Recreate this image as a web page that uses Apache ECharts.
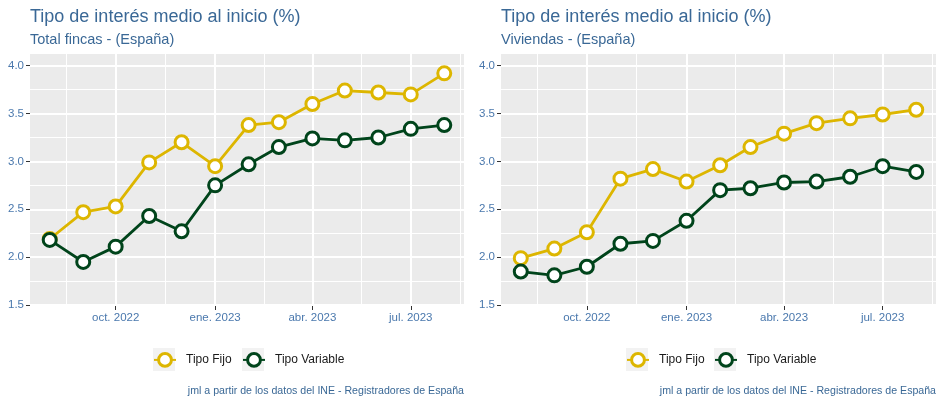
<!DOCTYPE html>
<html>
<head>
<meta charset="utf-8">
<script src="https://cdn.jsdelivr.net/npm/echarts@6/dist/echarts.min.js"></script>
<style>html,body{margin:0;padding:0;background:#fff}#c{width:944px;height:404px}</style>
</head>
<body>
<div id="c"></div>
<script>
// ---- data ----
const months = ['2022-08-01','2022-09-01','2022-10-01','2022-11-01','2022-12-01','2023-01-01','2023-02-01','2023-03-01','2023-04-01','2023-05-01','2023-06-01','2023-07-01','2023-08-01'];
const totalFijo     = [2.19,2.47,2.53,2.99,3.20,2.95,3.38,3.41,3.60,3.74,3.72,3.70,3.92];
const totalVariable = [2.18,1.95,2.11,2.43,2.27,2.75,2.97,3.15,3.24,3.22,3.25,3.34,3.38];
const vivFijo       = [1.99,2.09,2.26,2.82,2.92,2.79,2.96,3.15,3.29,3.40,3.45,3.49,3.54];
const vivVariable   = [1.85,1.81,1.90,2.14,2.17,2.38,2.70,2.72,2.78,2.79,2.84,2.95,2.89];
const xTickDates  = ['2022-10-01','2023-01-01','2023-04-01','2023-07-01'];
const xMinorDates = ['2022-08-16','2022-11-16','2023-02-15','2023-05-16','2023-08-16'];
const monthNames  = ['ene.','feb.','mar.','abr.','may.','jun.','jul.','ago.','sep.','oct.','nov.','dic.'];
const yTicks = [1.5,2.0,2.5,3.0,3.5,4.0];
const yMinor = [1.75,2.25,2.75,3.25,3.75];
const seriesNames = ['Tipo Fijo','Tipo Variable'];
const titleText = 'Tipo de interés medio al inicio (%)';
const subtitles = ['Total fincas - (España)','Viviendas - (España)'];
const captionText = 'jml a partir de los datos del INE - Registradores de España';

// ---- helpers ----
const ts = s => new Date(s + 'T00:00:00').getTime();
const DAY = 86400000;
const xMin = ts(months[0]) - 18.25 * DAY;
const xMax = ts(months[months.length-1]) + 18.25 * DAY;
const FONT = "'Liberation Sans', Arial, sans-serif";
const COL_FIJO = '#DDB600';
const COL_VAR = '#00441B';
const LABEL_COL = '#4A78AD';
const TITLE_COL = '#3A6896';

const grids = [
  {left: 30, top: 54, width: 434, height: 252},
  {left: 501, top: 54, width: 435, height: 252}
];

const xAxes = [], yAxes = [], series = [];
grids.forEach((g, gi) => {
  g.show = true; g.backgroundColor = '#EBEBEB'; g.borderWidth = 0;
  xAxes.push({
    type: 'value', gridIndex: gi, min: xMin, max: xMax,
    axisLine: {show: false},
    axisTick: {show: true, length: 4, lineStyle: {color: '#333333', width: 1}, customValues: xTickDates.map(ts)},
    axisLabel: {customValues: xTickDates.map(ts), margin: 6, color: LABEL_COL, fontFamily: FONT, fontSize: 11.5,
      formatter: v => { const d = new Date(v); return monthNames[d.getMonth()] + ' ' + d.getFullYear(); }},
    splitLine: {show: true, lineStyle: {color: '#FFFFFF', width: 2}}
  });
  xAxes.push({
    type: 'value', gridIndex: gi, min: xMin, max: xMax,
    axisLine: {show: false}, axisLabel: {show: false, customValues: xMinorDates.map(ts)},
    axisTick: {show: false, customValues: xMinorDates.map(ts)},
    splitLine: {show: true, lineStyle: {color: '#FFFFFF', width: 1}}
  });
  yAxes.push({
    type: 'value', gridIndex: gi, min: 1.49, max: 4.122,
    axisLine: {show: false},
    axisTick: {show: true, length: 4, lineStyle: {color: '#333333', width: 1}, customValues: yTicks},
    axisLabel: {customValues: yTicks, margin: 6, color: LABEL_COL, fontFamily: FONT, fontSize: 11.5,
      formatter: v => v.toFixed(1)},
    splitLine: {show: true, lineStyle: {color: '#FFFFFF', width: 2}}
  });
  yAxes.push({
    type: 'value', gridIndex: gi, min: 1.49, max: 4.122,
    axisLine: {show: false}, axisLabel: {show: false, customValues: yMinor},
    axisTick: {show: false, customValues: yMinor},
    splitLine: {show: true, lineStyle: {color: '#FFFFFF', width: 1}}
  });
});

const panelData = [[totalFijo, totalVariable],[vivFijo, vivVariable]];
const colors = [COL_FIJO, COL_VAR];
panelData.forEach((pair, gi) => {
  pair.forEach((vals, si) => {
    series.push({
      type: 'line', name: seriesNames[si], xAxisIndex: gi*2, yAxisIndex: gi*2,
      data: months.map((m, i) => [ts(m), vals[i]]),
      symbol: 'circle', symbolSize: 13, showSymbol: true,
      lineStyle: {color: colors[si], width: 2.8},
      itemStyle: {color: '#FFFFFF', borderColor: colors[si], borderWidth: 3},
      z: 3 + si
    });
  });
});

// legend positions (box left x) per panel
const legendBoxes = [[153, 242], [626, 714]];
const legends = [], graphics = [];
legendBoxes.forEach(boxes => {
  boxes.forEach((bx, si) => {
    legends.push({
      data: [seriesNames[si]], left: bx, top: 352, itemWidth: 22, itemHeight: 16,
      selectedMode: false, padding: 0,
      itemStyle: {borderWidth: 3},
      textStyle: {color: '#1A1A1A', fontFamily: FONT, fontSize: 12, padding: [0,0,0,5]}
    });
    graphics.push({type: 'rect', left: bx, top: 348, shape: {width: 22, height: 23}, style: {fill: '#F2F2F2'}, z: -1});
  });
});

const titles = [];
grids.forEach((g, gi) => {
  titles.push({text: titleText, left: g.left, top: 6, padding: 0,
    textStyle: {color: TITLE_COL, fontFamily: FONT, fontSize: 18, fontWeight: 'normal', lineHeight: 22}});
  titles.push({text: subtitles[gi], left: g.left, top: 31, padding: 0,
    textStyle: {color: TITLE_COL, fontFamily: FONT, fontSize: 14.5, fontWeight: 'normal', lineHeight: 18}});
  titles.push({text: captionText, right: 944 - (g.left + g.width), top: 384, padding: 0,
    textStyle: {color: TITLE_COL, fontFamily: FONT, fontSize: 10.6, fontWeight: 'normal', lineHeight: 14}});
});

const chart = echarts.init(document.getElementById('c'), null, {renderer: 'canvas'});
chart.setOption({
  animation: false,
  backgroundColor: '#FFFFFF',
  title: titles,
  grid: grids,
  xAxis: xAxes,
  yAxis: yAxes,
  legend: legends,
  graphic: graphics,
  series: series
});
</script>
</body>
</html>
